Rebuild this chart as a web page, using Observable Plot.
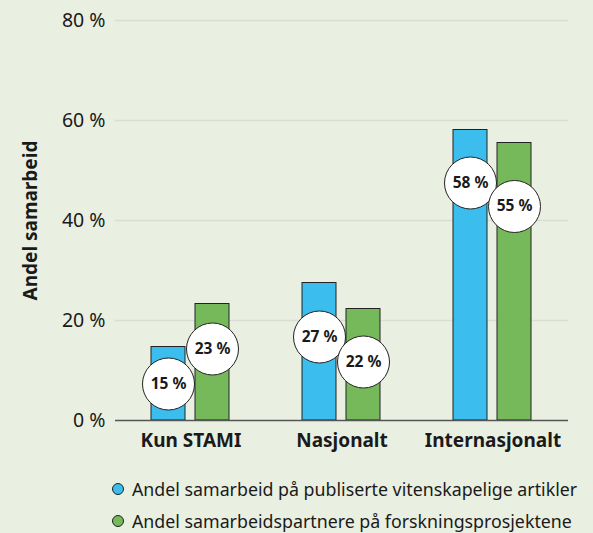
<!DOCTYPE html>
<html>
<head>
<meta charset="utf-8">
<script src="https://cdn.jsdelivr.net/npm/d3@7"></script>
<script src="https://cdn.jsdelivr.net/npm/@observablehq/plot@0.6"></script>
<style>
  html, body { margin: 0; padding: 0; background: #e9f0e1; }
  body { width: 593px; height: 533px; overflow: hidden; font-family: "Noto Sans", sans-serif; color: #1a1a1a; }
  #chart svg { display: block; }
  .legend { margin-top: 13px; margin-left: 112px; }
  .legend .item { height: 32px; line-height: 32px; font-size: 17.8px; display: flex; align-items: center; white-space: nowrap; }
  .legend .sw { width: 12px; height: 12px; border-radius: 50%; border: 1px solid #222; margin-right: 8px; box-sizing: border-box; flex: none; }
</style>
</head>
<body>
<div id="chart"></div>
<div class="legend" id="legend"></div>
<script>
const categories = ["Kun STAMI", "Nasjonalt", "Internasjonalt"];
const seriesNames = [
  "Andel samarbeid på publiserte vitenskapelige artikler",
  "Andel samarbeidspartnere på forskningsprosjektene"
];
const seriesColors = ["#3bbdee", "#76b95b"];
const articles = [14.7, 27.5, 58.1];
const projects = [23.3, 22.3, 55.5];
const articleLabels = [15, 27, 58];
const projectLabels = [23, 22, 55];
const articleLabelAt = [7.3, 16.7, 47.5];
const projectLabelAt = [14.3, 11.7, 42.8];
const yTicks = [0, 20, 40, 60, 80];

const data = [];
categories.forEach((c, i) => {
  data.push({cat: c, series: seriesNames[0], value: articles[i], label: articleLabels[i], at: articleLabelAt[i]});
  data.push({cat: c, series: seriesNames[1], value: projects[i], label: projectLabels[i], at: projectLabelAt[i]});
});

const chart = Plot.plot({
  width: 593,
  height: 460,
  marginTop: 20,
  marginLeft: 115,
  marginRight: 25,
  marginBottom: 40,
  style: {background: "transparent", fontFamily: "Noto Sans, sans-serif", fontSize: "18px", color: "#1a1a1a"},
  fx: {domain: categories, padding: 0, label: null, axis: "bottom", tickSize: 0, tickPadding: 13},
  x: {domain: seriesNames, axis: null, paddingInner: 0.227, paddingOuter: 0.818},
  y: {domain: [0, 80], axis: null},
  color: {domain: seriesNames, range: seriesColors},
  marks: [
    Plot.gridY(yTicks.filter(d => d > 0), {stroke: "#d9ded4", strokeOpacity: 1, strokeWidth: 1.5}),
    Plot.axisY(yTicks, {tickSize: 0, tickPadding: 10, tickFormat: d => d + " %", fontSize: 19.5, label: "Andel samarbeid", labelAnchor: "center", labelOffset: 92, labelArrow: false}),
    Plot.barY(data, {fx: "cat", x: "series", y: "value", fill: "series", stroke: "#222", strokeWidth: 1}),
    Plot.ruleY([0], {stroke: "#555", strokeWidth: 1.5}),
    Plot.dot(data, {fx: "cat", x: "series", y: "at", r: 26, fill: "white", stroke: "#222", strokeWidth: 1}),
    Plot.text(data, {fx: "cat", x: "series", y: "at", text: d => d.label + " %", fontWeight: "bold", fontSize: 15.5, fill: "#1a1a1a"})
  ]
});
document.getElementById("chart").appendChild(chart);

const yl = chart.querySelector('[aria-label="y-axis label"]');
if (yl) { yl.setAttribute("font-weight", "bold"); yl.setAttribute("font-size", "19"); }
const fxAxis = chart.querySelector('[aria-label="fx-axis tick label"]');
if (fxAxis) { fxAxis.setAttribute("font-weight", "bold"); fxAxis.setAttribute("font-size", "19"); }

const legend = document.getElementById("legend");
seriesNames.forEach((s, i) => {
  const item = document.createElement("div");
  item.className = "item";
  const sw = document.createElement("span");
  sw.className = "sw";
  sw.style.background = seriesColors[i];
  const t = document.createElement("span");
  t.textContent = s;
  item.appendChild(sw);
  item.appendChild(t);
  legend.appendChild(item);
});
</script>
</body>
</html>
